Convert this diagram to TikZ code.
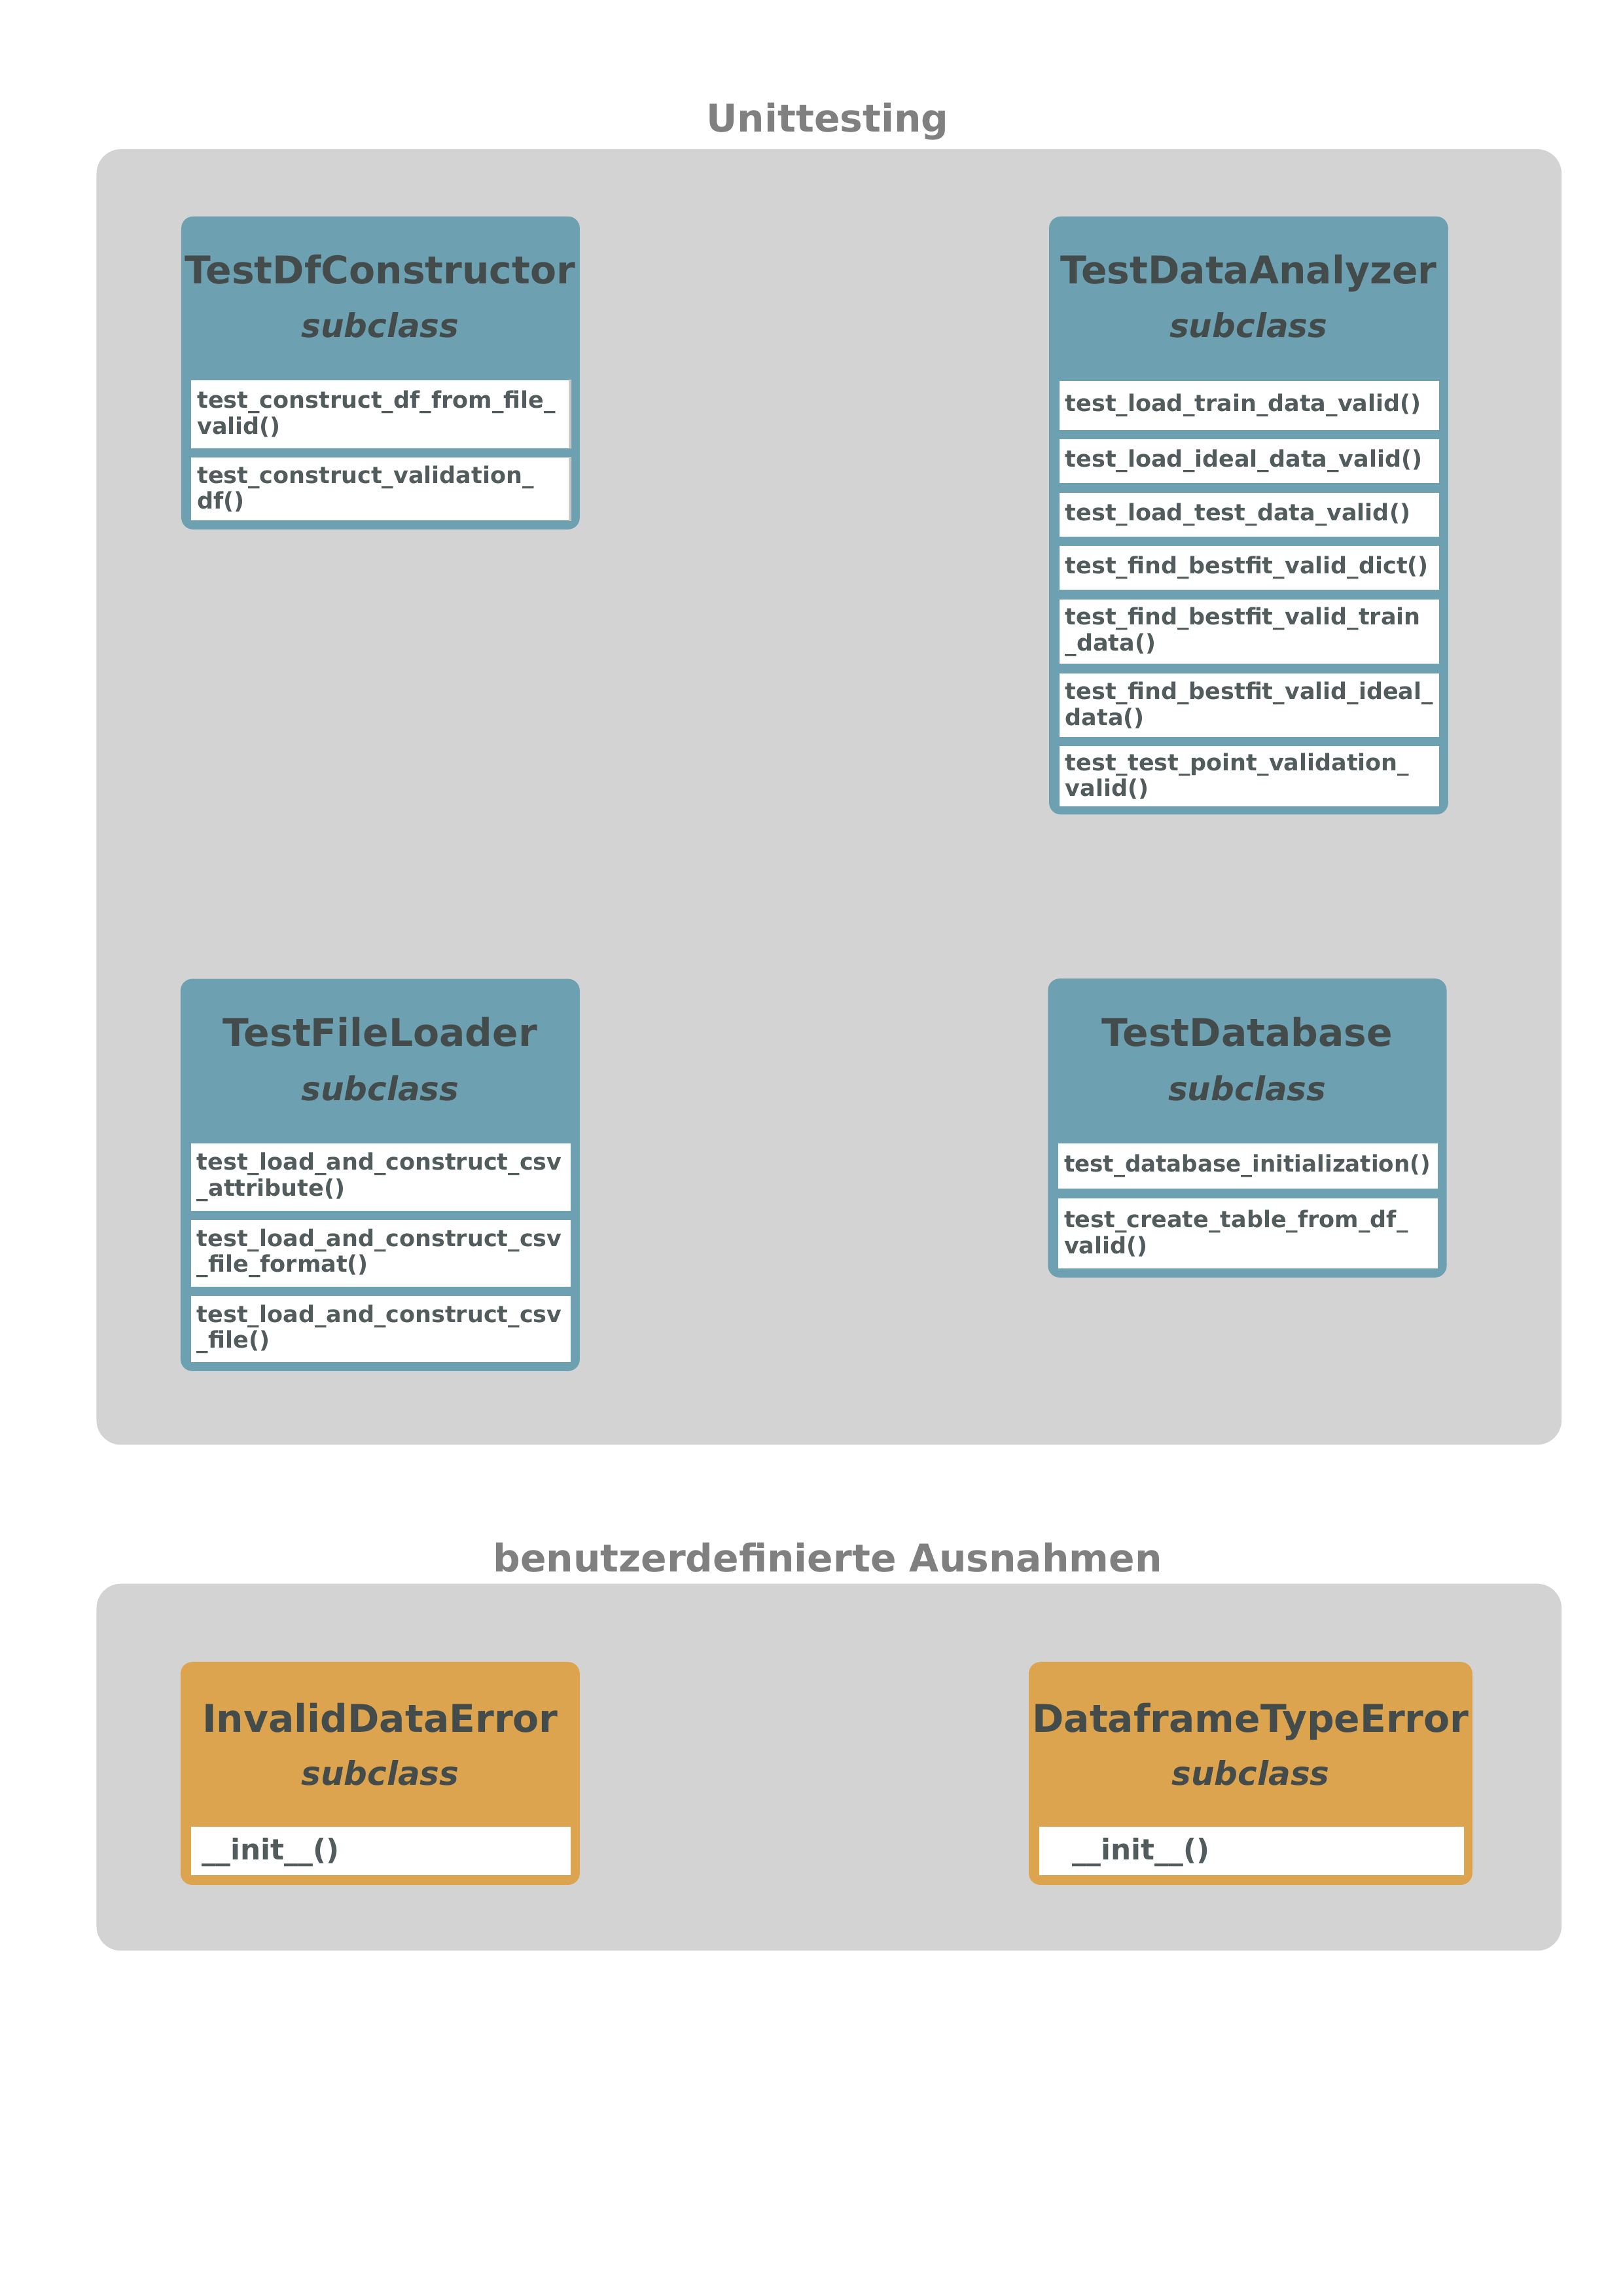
\documentclass[tikz,border=0pt]{standalone}
\usepackage{fontspec}
\setmainfont{DejaVu Sans}
\usetikzlibrary{fit}
\definecolor{panelgray}{HTML}{D3D3D3}
\definecolor{classblue}{HTML}{6DA1B2}
\definecolor{classorange}{HTML}{DDA450}
\definecolor{titletext}{HTML}{434B4B}
\definecolor{methtext}{HTML}{525C5C}
\definecolor{secttext}{HTML}{808080}
\definecolor{edgegray}{HTML}{C4C4C4}
\begin{document}
\begin{tikzpicture}[x=0.5363pt,y=-0.5363pt,
  panel/.style={fill=panelgray, draw=none, rounded corners=9pt, inner sep=0pt},
  bluebox/.style={fill=classblue, draw=none, rounded corners=4.3pt, inner sep=0pt},
  orangebox/.style={fill=classorange, draw=none, rounded corners=4.3pt, inner sep=0pt},
  secttitle/.style={anchor=base, inner sep=0pt, text=secttext, font=\fontsize{14}{17}\selectfont\bfseries},
  ctitle/.style={anchor=base, inner sep=0pt, text=titletext, font=\fontsize{14}{17}\selectfont\bfseries},
  csub/.style={anchor=base, inner sep=0pt, text=titletext, font=\fontsize{12}{14}\selectfont\bfseries\itshape},
  method/.style={fill=white, draw=none, anchor=north west, inner xsep=2.15pt, inner ysep=0pt,
    align=left, text width=134.9pt, minimum height=#1*0.5363pt, text=methtext,
    font=\fontsize{8.4}{9.5}\selectfont\bfseries},
  initbox/.style={fill=white, draw=none, anchor=north west, inner sep=0pt,
    minimum width=#1*0.5363pt, minimum height=33*0.5363pt},
  inittext/.style={anchor=base west, inner sep=0pt, text=methtext, font=\fontsize{10.5}{12}\selectfont\bfseries}
]
\useasboundingbox (0,0) rectangle (1110,1570.13);

% ---------------- Unittesting ----------------
\node (unitt) [secttitle] at (566,90) {Unittesting};
\node (unitpanel) [panel, fit={(66,102) (1068,988)}] {};

% TestDfConstructor
\node (dfc) [bluebox, fit={(124,148) (396.5,362)}] {};
\node (dfct) [ctitle] at (260,194) {TestDfConstructor};
\node (dfcs) [csub] at (260,230.5) {subclass};
\node (dfc1) [method=46.5] at (130.5,259.5) {test\_construct\_df\_from\_file\_\\valid()};
\node (dfc2) [method=43] at (130.5,312.5) {test\_construct\_validation\_\\df()};
\draw[edgegray, line width=0.9pt] (dfc1.north east) ++(-0.8,0) -- ([xshift=-0.43pt]dfc1.south east);
\draw[edgegray, line width=0.9pt] (dfc2.north east) ++(-0.8,0) -- ([xshift=-0.43pt]dfc2.south east);

% TestDataAnalyzer
\node (tda) [bluebox, fit={(717.5,148) (990.4,557)}] {};
\node (tdat) [ctitle] at (853.9,194) {TestDataAnalyzer};
\node (tdas) [csub] at (853.9,230.5) {subclass};
\node (tda1) [method=33.6] at (724.2,260) {test\_load\_train\_data\_valid()};
\node (tda2) [method=30] at (724.2,300) {test\_load\_ideal\_data\_valid()};
\node (tda3) [method=30] at (724.2,336.7) {test\_load\_test\_data\_valid()};
\node (tda4) [method=30] at (724.2,373) {test\_find\_bestfit\_valid\_dict()};
\node (tda5) [method=44] at (724.2,409.6) {test\_find\_bestfit\_valid\_train\\\_data()};
\node (tda6) [method=43.6] at (724.2,460) {test\_find\_bestfit\_valid\_ideal\_\\data()};
\node (tda7) [method=41] at (724.2,510) {test\_test\_point\_validation\_\\valid()};

% TestFileLoader
\node (tfl) [bluebox, fit={(123.5,669.4) (396.5,937.6)}] {};
\node (tflt) [ctitle] at (260,715.5) {TestFileLoader};
\node (tfls) [csub] at (260,752.8) {subclass};
\node (tfl1) [method=46] at (130.3,781.6) {test\_load\_and\_construct\_csv\\\_attribute()};
\node (tfl2) [method=45.7] at (130.3,833.9) {test\_load\_and\_construct\_csv\\\_file\_format()};
\node (tfl3) [method=45.1] at (130.3,886) {test\_load\_and\_construct\_csv\\\_file()};

% TestDatabase
\node (tdb) [bluebox, fit={(716.7,669.2) (989.4,873.6)}] {};
\node (tdbt) [ctitle] at (853,715.4) {TestDatabase};
\node (tdbs) [csub] at (853,752.8) {subclass};
\node (tdb1) [method=31.2] at (723.4,781.4) {\scalebox{0.975}[1]{test\_database\_initialization()}};
\node (tdb2) [method=47.7] at (723.4,819.2) {test\_create\_table\_from\_df\_\\valid()};

% ---------------- benutzerdefinierte Ausnahmen ----------------
\node (exct) [secttitle] at (566,1075) {benutzerdefinierte Ausnahmen};
\node (excpanel) [panel, fit={(66,1083) (1068,1334)}] {};

% InvalidDataError
\node (ide) [orangebox, fit={(123.5,1136.5) (396.5,1289)}] {};
\node (idet) [ctitle] at (260,1184.7) {InvalidDataError};
\node (ides) [csub] at (260,1220.7) {subclass};
\node (ide1) [initbox=259.6] at (130.3,1249) {};
\node (ide1t) [inittext] at (137.8,1272) {\_\_init\_\_()};

% DataframeTypeError
\node (dte) [orangebox, fit={(703.6,1136.5) (1007,1289)}] {};
\node (dtet) [ctitle] at (855.3,1184.7) {DataframeTypeError};
\node (dtes) [csub] at (855.3,1220.7) {subclass};
\node (dte1) [initbox=290.6] at (710.4,1249) {};
\node (dte1t) [inittext] at (733,1272) {\_\_init\_\_()};
\end{tikzpicture}
\end{document}
